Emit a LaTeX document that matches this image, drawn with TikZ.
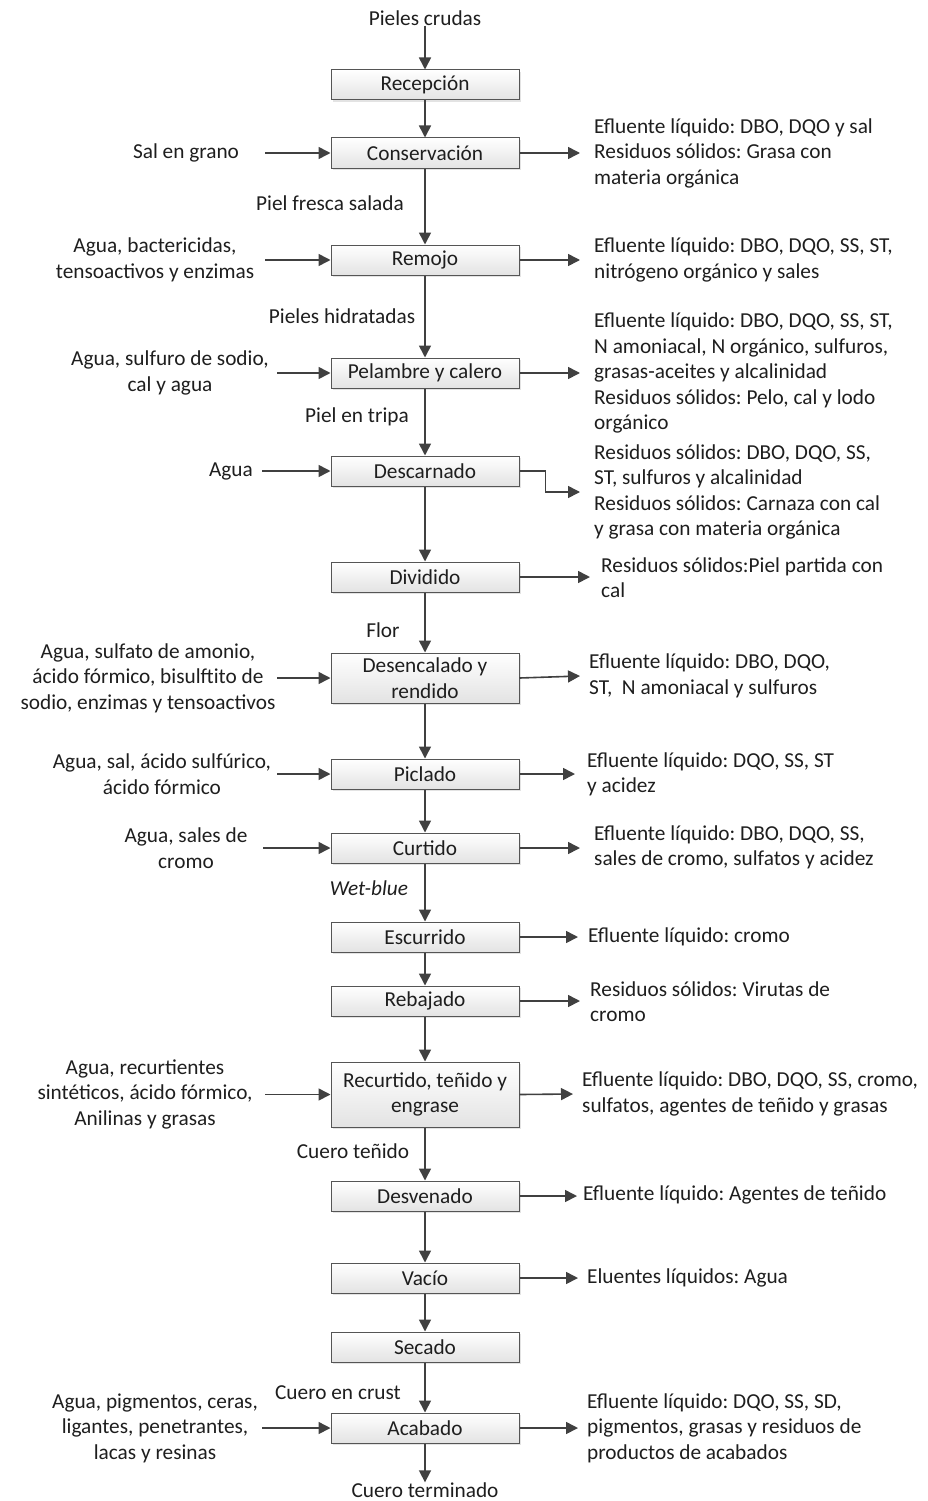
\documentclass[tikz,border=0pt]{standalone}
\usepackage{fontspec}
\setmainfont{Carlito}
\frenchspacing
\usetikzlibrary{arrows.meta,shadows}
\definecolor{linec}{HTML}{404040}
\definecolor{boxc}{HTML}{555555}
\definecolor{txt}{HTML}{1E1E1E}
\begin{document}
\begin{tikzpicture}[x=1pt,y=-1pt,
  font=\fontsize{21.3}{25.5}\selectfont, text=txt,
  proc/.style={draw=boxc, line width=1pt, top color=white, bottom color=black!11,
    minimum width=188, minimum height=30, inner sep=0, align=center,
    drop shadow={opacity=0.22, shadow xshift=2pt, shadow yshift=-2pt}},
  arr/.style={draw=linec, line width=1.6pt, -{Triangle[length=12pt,width=12pt]}},
  lbl/.style={inner sep=0, align=center},
  rlbl/.style={inner sep=0, anchor=west, align=left},
]
\useasboundingbox (0,0) rectangle (927,1501);

% main process chain
\node[proc] (recep) at (425,85) {Recepción};
\node[proc] (cons) at (425,153) {Conservación};
\node[proc] (remo) at (425,260) {Remojo};
\node[proc] (pela) at (425,373) {Pelambre y calero};
\node[proc] (desc) at (425,471) {Descarnado};
\node[proc] (divi) at (425,577) {Dividido};
\node[proc, minimum height=50] (dese) at (425,678) {Desencalado y\\rendido};
\node[proc] (picl) at (425,774) {Piclado};
\node[proc] (curt) at (425,848) {Curtido};
\node[proc] (escu) at (425,937) {Escurrido};
\node[proc] (reba) at (425,1001) {Rebajado};
\node[proc, minimum height=65] (recu) at (425,1094.5) {Recurtido, teñido y\\engrase};
\node[proc] (desv) at (425,1196) {Desvenado};
\node[proc] (vaci) at (425,1278) {Vacío};
\node[proc] (seca) at (425,1347) {Secado};
\node[proc] (acab) at (425,1428) {Acabado};

\node[lbl] (start) at (425,18) {Pieles crudas};
\node[lbl] (end) at (425,1490) {Cuero terminado};

\draw[arr] (start) -- (recep);
\draw[arr] (recep) -- (cons);
\draw[arr] (cons) -- (remo);
\draw[arr] (remo) -- (pela);
\draw[arr] (pela) -- (desc);
\draw[arr] (desc) -- (divi);
\draw[arr] (divi) -- (dese);
\draw[arr] (dese) -- (picl);
\draw[arr] (picl) -- (curt);
\draw[arr] (curt) -- (escu);
\draw[arr] (escu) -- (reba);
\draw[arr] (reba) -- (recu);
\draw[arr] (recu) -- (desv);
\draw[arr] (desv) -- (vaci);
\draw[arr] (vaci) -- (seca);
\draw[arr] (seca) -- (acab);
\draw[arr] (acab) -- (end);

% names of the intermediate products
\node[lbl] (m1) at (330,203) {Piel fresca salada};
\node[lbl] (m2) at (342,316) {Pieles hidratadas};
\node[lbl] (m3) at (357,417) {Piel en tripa};
\node[lbl] (m4) at (383,630) {Flor};
\node[lbl] (m5) at (369,888) {\itshape Wet-blue};
\node[lbl] (m6) at (353,1151) {Cuero teñido};
\node[lbl] (m7) at (338,1393) {Cuero en crust};

% inputs on the left
\node[lbl] (i1) at (186,153) {Sal en grano};
\node[lbl] (i2) at (155,260) {Agua, bactericidas,\\tensoactivos y enzimas};
\node[lbl] (i3) at (170,373) {Agua, sulfuro de sodio,\\cal y agua};
\node[lbl] (i4) at (231,471) {Agua};
\node[lbl] (i5) at (148,678) {Agua, sulfato de amonio,\\ácido fórmico, bisulftito de\\sodio, enzimas y tensoactivos};
\node[lbl] (i6) at (162,774) {Agua, sal, ácido sulfúrico,\\ácido fórmico};
\node[lbl] (i7) at (186,848) {Agua, sales de\\cromo};
\node[lbl] (i8) at (145,1094) {Agua, recurtientes\\sintéticos, ácido fórmico,\\Anilinas y grasas};
\node[lbl] (i9) at (155,1428) {Agua, pigmentos, ceras,\\ligantes, penetrantes,\\lacas y resinas};

\coordinate (c1) at (265,153);
\coordinate (c2) at (265,260);
\coordinate (c3) at (277,373);
\coordinate (c4) at (262,471);
\coordinate (c5) at (277,678);
\coordinate (c6) at (277,774);
\coordinate (c7) at (263,848);
\coordinate (c8) at (265,1094.5);
\coordinate (c9) at (262,1428);

\draw[arr] (c1) -- (cons);
\draw[arr] (c2) -- (remo);
\draw[arr] (c3) -- (pela);
\draw[arr] (c4) -- (desc);
\draw[arr] (c5) -- (dese);
\draw[arr] (c6) -- (picl);
\draw[arr] (c7) -- (curt);
\draw[arr] (c8) -- (recu);
\draw[arr] (c9) -- (acab);

% outputs on the right
\node[rlbl] (o1) at (594,153) {Efluente líquido: DBO, DQO y sal\\Residuos sólidos: Grasa con\\materia orgánica};
\node[rlbl] (o2) at (594,260) {Efluente líquido: DBO, DQO, SS, ST,\\nitrógeno orgánico y sales};
\node[rlbl] (o3) at (594,373) {Efluente líquido: DBO, DQO, SS, ST,\\N amoniacal, N orgánico, sulfuros,\\grasas-aceites y alcalinidad\\Residuos sólidos: Pelo, cal y lodo\\orgánico};
\node[rlbl] (o4) at (594,492) {Residuos sólidos: DBO, DQO, SS,\\ST, sulfuros y alcalinidad\\Residuos sólidos: Carnaza con cal\\y grasa con materia orgánica};
\node[rlbl] (o5) at (601,577.5) {Residuos sólidos:Piel partida con\\cal};
\node[rlbl] (o6) at (589,676) {Efluente líquido: DBO, DQO,\\ST,\ \ N amoniacal y sulfuros};
\node[rlbl] (o7) at (587,774.5) {Efluente líquido: DQO, SS, ST\\y acidez};
\node[rlbl] (o8) at (594,847.5) {Efluente líquido: DBO, DQO, SS,\\sales de cromo, sulfatos y acidez};
\node[rlbl] (o9) at (588,937) {Efluente líquido: cromo};
\node[rlbl] (o10) at (590,1001.5) {Residuos sólidos: Virutas de\\cromo};
\node[rlbl] (o11) at (582,1094) {Efluente líquido: DBO, DQO, SS, cromo,\\sulfatos, agentes de teñido y grasas};
\node[rlbl] (o12) at (583,1195) {Efluente líquido: Agentes de teñido};
\node[rlbl] (o13) at (587,1278) {Eluentes líquidos: Agua};
\node[rlbl] (o14) at (587,1428) {Efluente líquido: DQO, SS, SD,\\pigmentos, grasas y residuos de\\productos de acabados};

\draw[arr] (cons.east) -- ([xshift=-14]o1.west |- cons.east);
\draw[arr] (remo.east) -- ([xshift=-14]o2.west |- remo.east);
\draw[arr] (pela.east) -- ([xshift=-14]o3.west |- pela.east);
\draw[arr] (desc.east) -- ++(26,0) |- ([xshift=-14]o4.west);
\draw[arr] (divi.east) -- ([xshift=-11]o5.west |- divi.east);
\draw[arr] (dese.east) -- ([xshift=-9]o6.west);
\draw[arr] (picl.east) -- ([xshift=-12]o7.west |- picl.east);
\draw[arr] (curt.east) -- ([xshift=-14]o8.west |- curt.east);
\draw[arr] (escu.east) -- ([xshift=-10]o9.west |- escu.east);
\draw[arr] (reba.east) -- ([xshift=-10]o10.west |- reba.east);
\draw[arr] (recu.east) -- ([xshift=-9]o11.west);
\draw[arr] (desv.east) -- ([xshift=-6]o12.west |- desv.east);
\draw[arr] (vaci.east) -- ([xshift=-9]o13.west |- vaci.east);
\draw[arr] (acab.east) -- ([xshift=-9]o14.west |- acab.east);
\end{tikzpicture}
\end{document}
